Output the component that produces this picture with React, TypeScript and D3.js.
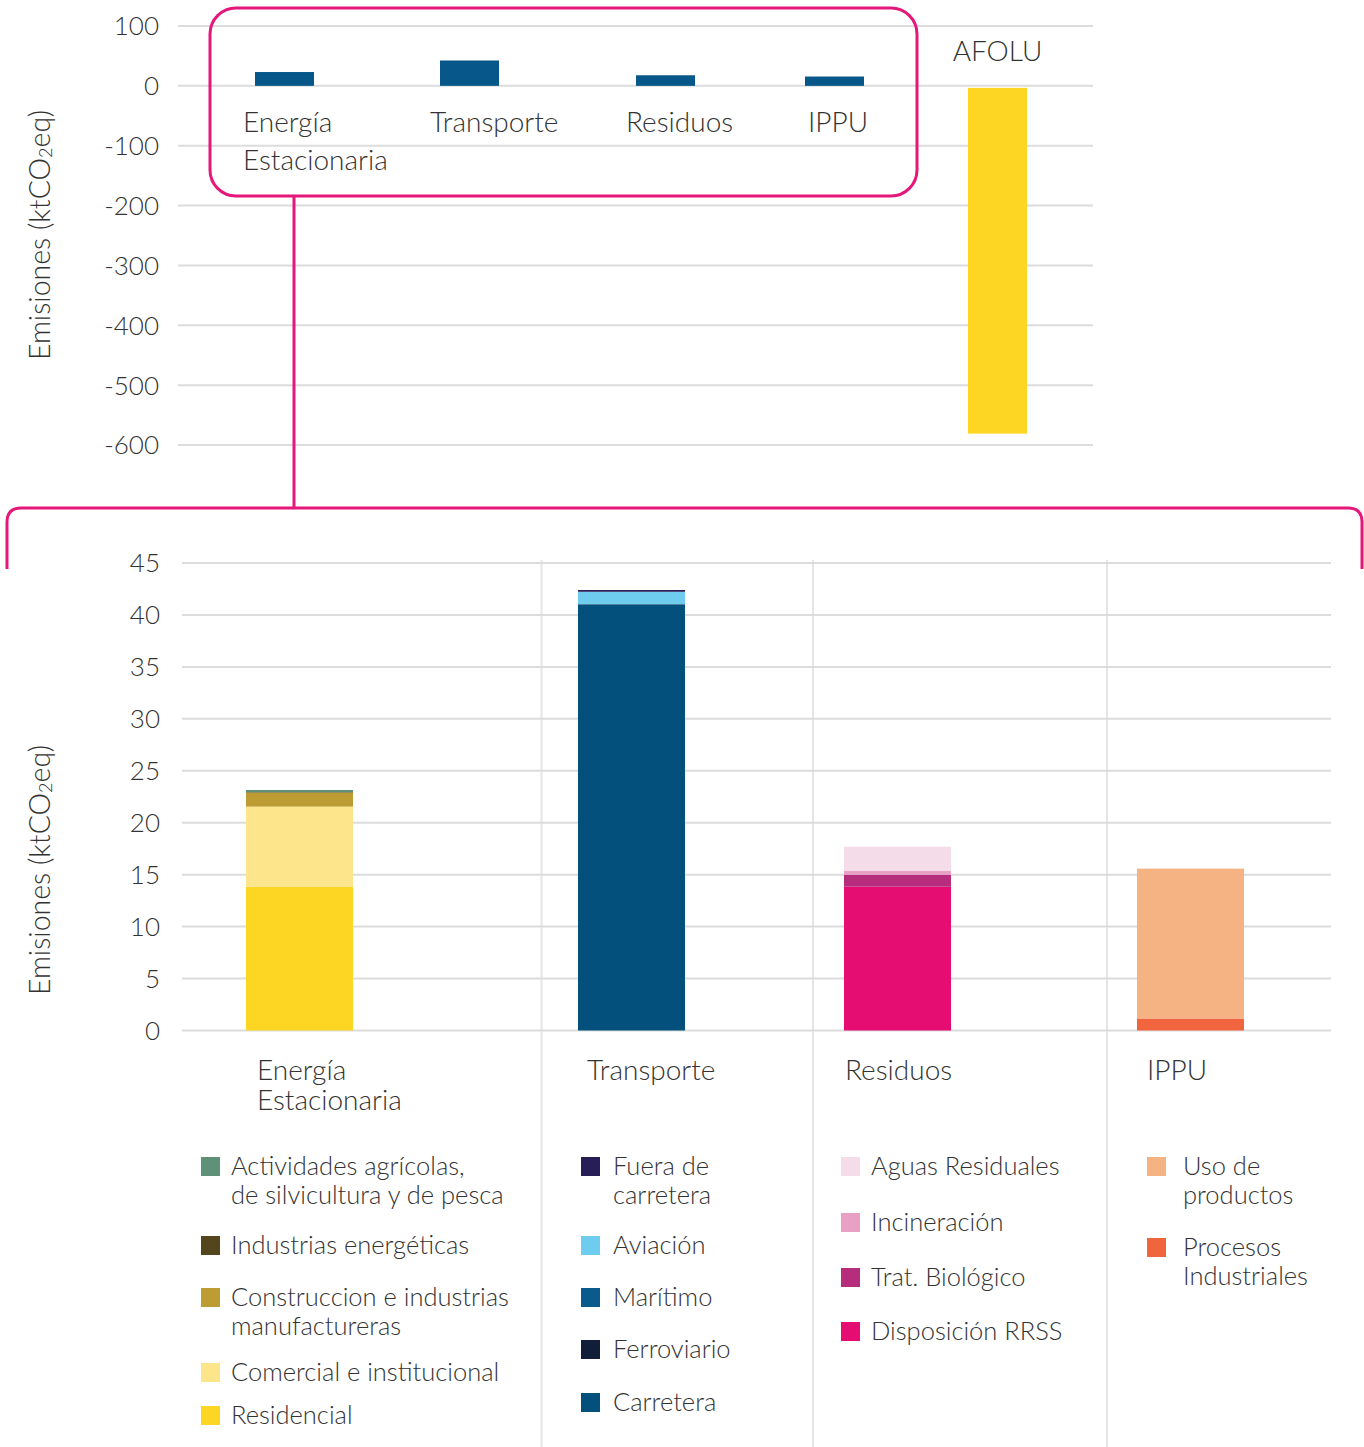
import React, { useEffect } from "react";
import * as d3 from "d3";

// ---------- DATA ----------
const TOP_CATEGORIES = ["Energía\nEstacionaria", "Transporte", "Residuos", "IPPU", "AFOLU"];
const TOP_VALUES = [23.1, 42.4, 17.7, 15.6, -581];
const TOP_TICKS = [100, 0, -100, -200, -300, -400, -500, -600];

const SECTORS = ["Energía\nEstacionaria", "Transporte", "Residuos", "IPPU"];
const LOWER_TICKS = [0, 5, 10, 15, 20, 25, 30, 35, 40, 45];

// legend order (top to bottom); stacks are drawn bottom-up (reversed)
const ENERGIA_LABELS = [
  "Actividades agrícolas,\nde silvicultura y de pesca",
  "Industrias energéticas",
  "Construccion e industrias\nmanufactureras",
  "Comercial e institucional",
  "Residencial",
];
const ENERGIA_VALUES = [0.2, 0.05, 1.35, 7.7, 13.85];
const ENERGIA_COLORS = ["#5F9078", "#54461C", "#BD9D33", "#FCE58A", "#FDD523"];

const TRANSPORTE_LABELS = ["Fuera de\ncarretera", "Aviación", "Marítimo", "Ferroviario", "Carretera"];
const TRANSPORTE_VALUES = [0.17, 1.18, 0.03, 0.02, 41.0];
const TRANSPORTE_COLORS = ["#281E57", "#6ECDEE", "#0A5B8B", "#101E3A", "#03507C"];

const RESIDUOS_LABELS = ["Aguas Residuales", "Incineración", "Trat. Biológico", "Disposición RRSS"];
const RESIDUOS_VALUES = [2.3, 0.39, 1.16, 13.84];
const RESIDUOS_COLORS = ["#F5DCE9", "#E8A0C4", "#B62D7D", "#E50C72"];

const IPPU_LABELS = ["Uso de\nproductos", "Procesos\nIndustriales"];
const IPPU_VALUES = [14.42, 1.16];
const IPPU_COLORS = ["#F5B383", "#F0653E"];

// ---------- LAYOUT ----------
const W = 1364;
const H = 1447;
const FONT = "Lato, 'Open Sans', sans-serif";
const TEXT = "#333333";
const GRID = "#DCDCDC";
const MAGENTA = "#E6177A";
const TOP_BAR_COLOR = "#08578A";
const AFOLU_COLOR = "#FDD523";

const topY = d3.scaleLinear().domain([-600, 100]).range([445, 26]);
const topX = d3.scaleOrdinal<string, number>().domain(TOP_CATEGORIES).range([255, 440, 636, 805, 968]);
const TOP_BAR_W = 59;
const TOP_LABEL_DX = [-12, -10, -10, 3, 0];

const lowY = d3.scaleLinear().domain([0, 45]).range([1030.5, 563]);
const lowX = d3.scaleOrdinal<string, number>().domain(SECTORS).range([246, 578, 844, 1137]);
const LOW_BAR_W = 107;
const LOW_LABEL_DX = [11, 9, 1, 10];
const SEPARATORS = [541.5, 813, 1107];

const GROUPS = [
  { labels: ENERGIA_LABELS, values: ENERGIA_VALUES, colors: ENERGIA_COLORS, swatchX: 201, textX: 231, rows: [1157, 1236, 1288, 1363, 1406] },
  { labels: TRANSPORTE_LABELS, values: TRANSPORTE_VALUES, colors: TRANSPORTE_COLORS, swatchX: 581, textX: 613, rows: [1157, 1236, 1288, 1340, 1393] },
  { labels: RESIDUOS_LABELS, values: RESIDUOS_VALUES, colors: RESIDUOS_COLORS, swatchX: 841, textX: 871, rows: [1157, 1213, 1268, 1322] },
  { labels: IPPU_LABELS, values: IPPU_VALUES, colors: IPPU_COLORS, swatchX: 1147, textX: 1183, rows: [1157, 1238] },
];

function stackSegments(values: number[]) {
  const idx = values.map((_, i) => i).reverse();
  let acc = 0;
  return idx.map((i) => {
    const y0 = acc;
    acc += values[i];
    return { i, y0, y1: acc };
  });
}

function YTitle({ cx, cy }: { cx: number; cy: number }) {
  return (
    <text
      transform={`translate(${cx},${cy}) rotate(-90)`}
      textAnchor="middle"
      dominantBaseline="middle"
      fontFamily={FONT}
      fontSize={28.5}
      fontWeight={300}
      fill={TEXT}
    >
      <tspan>Emisiones (ktCO</tspan>
      <tspan fontSize={18} dy={5}>2</tspan>
      <tspan dy={-5}>eq)</tspan>
    </text>
  );
}

export default function App() {
  useEffect(() => {
    document.body.style.margin = "0";
  }, []);

  return (
    <svg width={W} height={H} style={{ display: "block", background: "#fff" }}>
      {/* ===== TOP CHART ===== */}
      <g>
        {TOP_TICKS.map((t) => (
          <g key={"tt" + t}>
            <line x1={178} x2={1093} y1={topY(t)} y2={topY(t)} stroke={GRID} strokeWidth={2} />
            <text x={159} y={topY(t)} dy="0.36em" textAnchor="end" fontFamily={FONT} fontSize={26} fontWeight={300} fill={TEXT}>
              {t}
            </text>
          </g>
        ))}
        {TOP_CATEGORIES.map((c, i) => {
          const v = TOP_VALUES[i];
          const y0 = topY(0);
          const y1 = topY(v);
          const isAfolu = v < 0;
          return (
            <rect
              key={"tb" + c}
              x={topX(c)}
              width={TOP_BAR_W}
              y={Math.min(y0, y1) + (isAfolu ? 2 : 0)}
              height={Math.abs(y1 - y0) - (isAfolu ? 2 : 0)}
              fill={isAfolu ? AFOLU_COLOR : TOP_BAR_COLOR}
            />
          );
        })}
        {TOP_CATEGORIES.map((c, i) => {
          const v = TOP_VALUES[i];
          const lines = c.split("\n");
          if (v < 0) {
            return (
              <text key={"tl" + c} x={topX(c) + TOP_BAR_W / 2} y={61} textAnchor="middle" fontFamily={FONT} fontSize={28} fontWeight={300} fill={TEXT}>
                {c}
              </text>
            );
          }
          return (
            <text key={"tl" + c} fontFamily={FONT} fontSize={28} fontWeight={300} fill={TEXT}>
              {lines.map((ln, k) => (
                <tspan key={k} x={topX(c) + TOP_LABEL_DX[i]} y={132 + k * 38}>
                  {ln}
                </tspan>
              ))}
            </text>
          );
        })}
        <YTitle cx={43} cy={235} />
      </g>

      {/* ===== MAGENTA CONNECTORS ===== */}
      <rect x={210} y={8} width={707} height={188} rx={26} ry={26} fill="none" stroke={MAGENTA} strokeWidth={3} />
      <line x1={294} x2={294} y1={196} y2={508} stroke={MAGENTA} strokeWidth={3} />
      <path
        d={`M7,569 L7,522 Q7,508 21,508 L1348,508 Q1362,508 1362,522 L1362,569`}
        fill="none"
        stroke={MAGENTA}
        strokeWidth={3}
      />

      {/* ===== LOWER CHART ===== */}
      <g>
        {SEPARATORS.map((x) => (
          <line key={"sep" + x} x1={x} x2={x} y1={560} y2={H} stroke="#E6E6E6" strokeWidth={2} />
        ))}
        {LOWER_TICKS.map((t) => (
          <g key={"lt" + t}>
            <line x1={182} x2={1331} y1={lowY(t)} y2={lowY(t)} stroke={GRID} strokeWidth={2} />
            <text x={160} y={lowY(t)} dy="0.36em" textAnchor="end" fontFamily={FONT} fontSize={26} fontWeight={300} fill={TEXT}>
              {t}
            </text>
          </g>
        ))}
        {SECTORS.map((s, gi) => {
          const g = GROUPS[gi];
          return stackSegments(g.values).map((seg) => (
            <rect
              key={s + seg.i}
              x={lowX(s)}
              width={LOW_BAR_W}
              y={lowY(seg.y1)}
              height={lowY(seg.y0) - lowY(seg.y1)}
              fill={g.colors[seg.i]}
            />
          ));
        })}
        {SECTORS.map((s, si) => (
          <text key={"sl" + s} fontFamily={FONT} fontSize={28} fontWeight={300} fill={TEXT}>
            {s.split("\n").map((ln, k) => (
              <tspan key={k} x={lowX(s) + LOW_LABEL_DX[si]} y={1080 + k * 30}>
                {ln}
              </tspan>
            ))}
          </text>
        ))}
        <YTitle cx={43} cy={870} />
      </g>

      {/* ===== LEGENDS ===== */}
      {GROUPS.map((g, gi) => (
        <g key={"lg" + gi}>
          {g.labels.map((lab, i) => {
            const top = g.rows[i];
            return (
              <g key={lab}>
                <rect x={g.swatchX} y={top} width={19} height={19} fill={g.colors[i]} />
                <text fontFamily={FONT} fontSize={25.5} fontWeight={300} fill={TEXT}>
                  {lab.split("\n").map((ln, k) => (
                    <tspan key={k} x={g.textX} y={top + 18 + k * 29}>
                      {ln}
                    </tspan>
                  ))}
                </text>
              </g>
            );
          })}
        </g>
      ))}
    </svg>
  );
}
